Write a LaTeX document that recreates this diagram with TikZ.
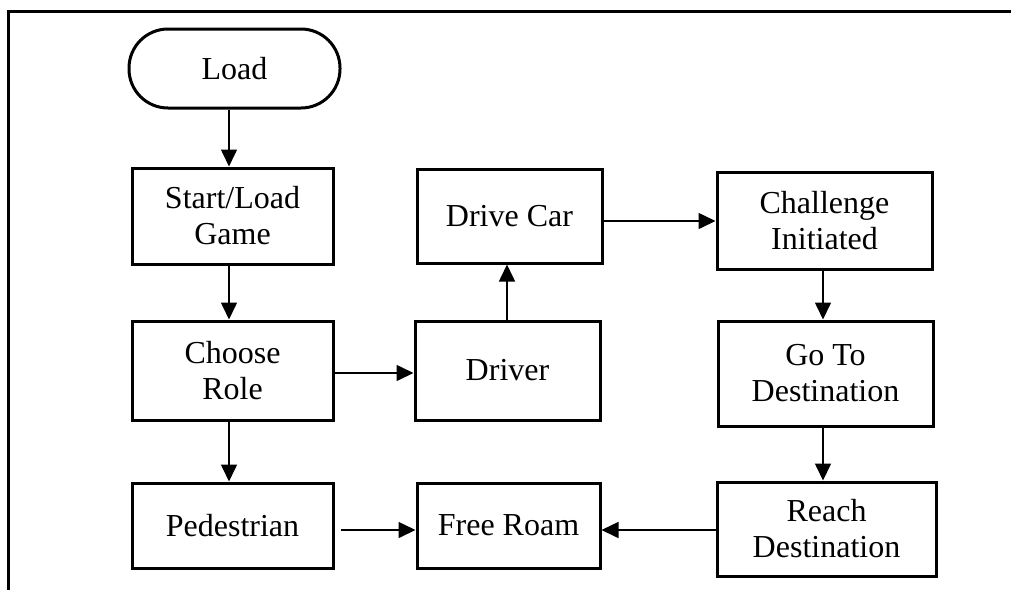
\documentclass[tikz,border=0pt]{standalone}
\usepackage{fontspec}
\setmainfont{Liberation Serif}
\usetikzlibrary{arrows.meta}
\begin{document}
\begin{tikzpicture}[x=1pt,y=-1pt,
  box/.style={draw,line width=3pt,rectangle,inner sep=0pt,align=center,
    font=\fontsize{32}{36}\selectfont},
  term/.style={box,rounded corners=39pt},
  flow/.style={line width=1.6pt,-{Triangle[width=16pt,length=17pt]}},
  frame/.style={line width=3pt}]
\useasboundingbox (0,0) rectangle (1011,590);
% outer frame
\coordinate (fr1) at (8.5,590);
\coordinate (fr2) at (8.5,11);
\coordinate (fr3) at (1011,11);
\draw[frame] (fr1) -- (fr2) -- (fr3);
% nodes
\node[term,minimum width=211pt,minimum height=79pt] (load) at (234.5,68.5) {Load};
\node[box,minimum width=201pt,minimum height=96pt] (start) at (232.5,216) {Start/Load\\Game};
\node[box,minimum width=201pt,minimum height=99pt] (role) at (232.5,370.5) {Choose\\Role};
\node[box,minimum width=201pt,minimum height=85pt] (ped) at (232.5,525.5) {Pedestrian};
\node[box,minimum width=185pt,minimum height=94pt] (car) at (509.5,216) {Drive Car};
\node[box,minimum width=185pt,minimum height=99pt] (driver) at (507.5,370.5) {Driver};
\node[box,minimum width=183pt,minimum height=85pt] (roam) at (508.5,525.5) {Free Roam};
\node[box,minimum width=215pt,minimum height=97pt] (chal) at (824.5,220.5) {Challenge\\Initiated};
\node[box,minimum width=215pt,minimum height=105pt] (goto) at (825.5,373.5) {Go To\\Destination};
\node[box,minimum width=219pt,minimum height=94pt] (reach) at (826.5,529) {Reach\\Destination};
% connectors
\draw[flow] (load.south -| 229,0) -- (start.north -| 229,0);
\draw[flow] (start.south -| 229,0) -- (role.north -| 229,0);
\draw[flow] (role.south -| 229,0) -- (ped.north -| 229,0);
\draw[flow] (role.east |- 0,373) -- (driver.west |- 0,373);
\draw[flow] (driver.north -| 507,0) -- (car.south -| 507,0);
\draw[flow] (car.east |- 0,221) -- (chal.west |- 0,221);
\draw[flow] (chal.south -| 823,0) -- (goto.north -| 823,0);
\draw[flow] (goto.south -| 823,0) -- (reach.north -| 823,0);
\draw[flow,shorten <=6pt] (ped.east |- 0,530) -- (roam.west |- 0,530);
\draw[flow] (reach.west |- 0,530) -- (roam.east |- 0,530);
\end{tikzpicture}
\end{document}
